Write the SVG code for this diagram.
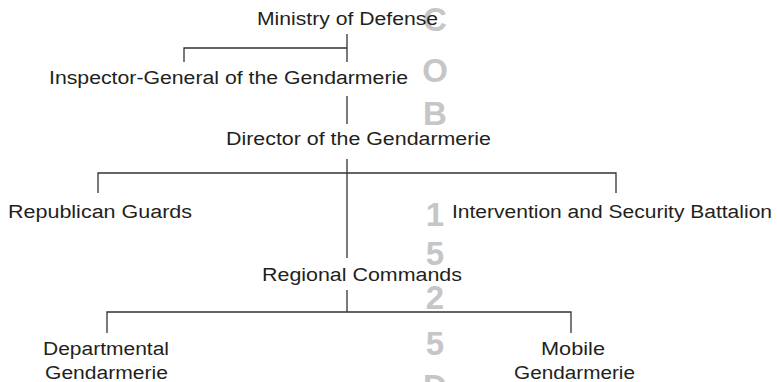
<svg xmlns="http://www.w3.org/2000/svg" width="777" height="382" viewBox="0 0 777 382">
<style>
.t{font-family:"Liberation Sans",Arial,Helvetica,sans-serif;font-size:18px;fill:#231f20}
.w{font-family:"Liberation Sans",Arial,Helvetica,sans-serif;font-size:33px;font-weight:bold;fill:#c6c6c6;text-anchor:middle}
.c{fill:none;stroke:#333;stroke-width:1.3}
</style>
<rect width="777" height="382" fill="#fff"/>
<g id="watermark">
<text class="w" x="435" y="31">C</text>
<text class="w" x="435" y="82">O</text>
<text class="w" x="435" y="125">B</text>
<text class="w" x="435" y="226">1</text>
<text class="w" x="435" y="265">5</text>
<text class="w" x="435" y="309">2</text>
<text class="w" x="435" y="355">5</text>
<text class="w" x="435" y="398">D</text>
</g>
<g id="connectors">
<path class="c" d="M347,34V62M184,62V48H347M347,96V124"/>
<path class="c" d="M347,159V258M98,193V173H616V193"/>
<path class="c" d="M347,290V312M107,333V312H571V333"/>
</g>
<g id="ministry"><text class="t" x="257" y="25" textLength="181" lengthAdjust="spacingAndGlyphs">Ministry of Defense</text></g>
<g id="inspector"><text class="t" x="49" y="84" textLength="359" lengthAdjust="spacingAndGlyphs">Inspector-General of the Gendarmerie</text></g>
<g id="director"><text class="t" x="226" y="145" textLength="265" lengthAdjust="spacingAndGlyphs">Director of the Gendarmerie</text></g>
<g id="republican"><text class="t" x="8" y="218" textLength="184" lengthAdjust="spacingAndGlyphs">Republican Guards</text></g>
<g id="intervention"><text class="t" x="452" y="218" textLength="320" lengthAdjust="spacingAndGlyphs">Intervention and Security Battalion</text></g>
<g id="regional"><text class="t" x="262" y="281" textLength="200" lengthAdjust="spacingAndGlyphs">Regional Commands</text></g>
<g id="departmental"><text class="t" x="43" y="355" textLength="126" lengthAdjust="spacingAndGlyphs">Departmental</text><text class="t" x="45" y="379" textLength="123" lengthAdjust="spacingAndGlyphs">Gendarmerie</text></g>
<g id="mobile"><text class="t" x="541" y="355" textLength="64" lengthAdjust="spacingAndGlyphs">Mobile</text><text class="t" x="514" y="379" textLength="121" lengthAdjust="spacingAndGlyphs">Gendarmerie</text></g>
</svg>
